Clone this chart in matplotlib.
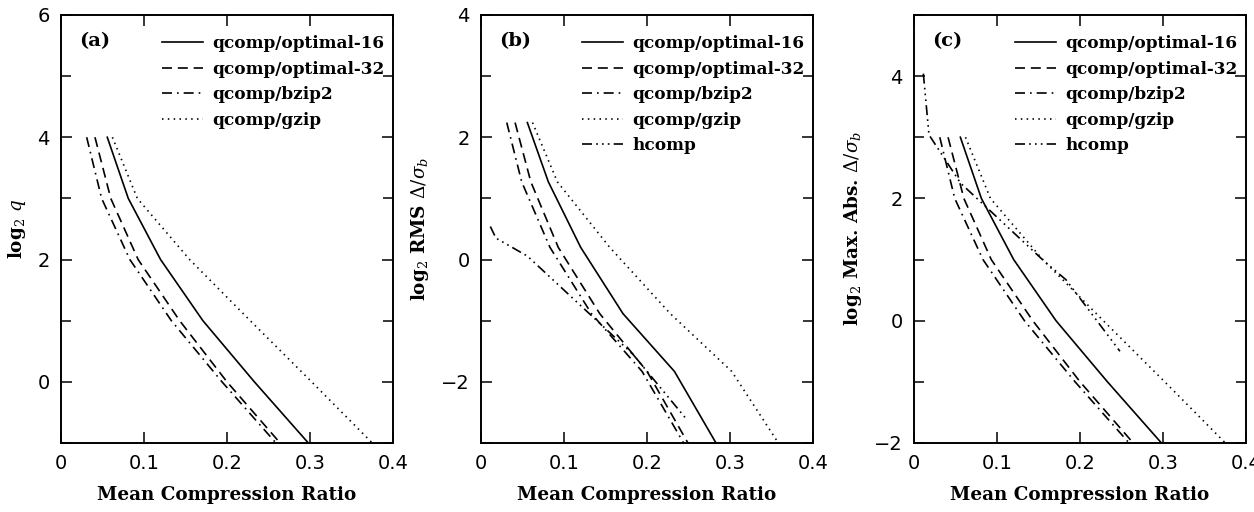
import matplotlib
matplotlib.use('Agg')
import matplotlib.pyplot as plt
from matplotlib.ticker import MultipleLocator

plt.rcParams['font.family'] = ['DejaVu Serif']
plt.rcParams['mathtext.fontset'] = 'dejavuserif'
plt.rcParams['mathtext.default'] = 'it'

# mean compression ratio for each quantisation step (same q for all qcomp coders)
ratio_opt16 = [0.0558, 0.0811, 0.120, 0.171, 0.233, 0.298]
ratio_opt32 = [0.041, 0.060, 0.093, 0.143, 0.200, 0.264]
ratio_bzip2 = [0.031, 0.049, 0.083, 0.133, 0.194, 0.259]
ratio_gzip = [0.062, 0.092, 0.155, 0.228, 0.302, 0.375]

log2_q = [4, 3, 2, 1, 0, -1]
log2_rms = [2.24, 1.27, 0.20, -0.885, -1.83, -3.35]
log2_maxabs = [3, 2, 1, 0, -1, -2]

hcomp_ratio = [0.0112, 0.018, 0.056, 0.157, 0.183, 0.248]
hcomp_rms = [0.54, 0.35, 0.055, -1.22, -1.55, -2.62]
hcomp_maxabs = [4.04, 3.04, 2.25, 0.97, 0.67, -0.5]

qcomp_names = ['qcomp/optimal-16', 'qcomp/optimal-32', 'qcomp/bzip2', 'qcomp/gzip']
qcomp_ratios = [ratio_opt16, ratio_opt32, ratio_bzip2, ratio_gzip]
styles = ['-', (0, (6, 3.5)), (0, (6, 3, 1, 3)), (0, (0.9, 2.6))]
hcomp_style = (0, (6, 2.5, 1, 2.5, 1, 2.5, 1, 2.5))

xticks = [0, 0.1, 0.2, 0.3, 0.4]
xticklabels = ['0', '0.1', '0.2', '0.3', '0.4']

panels = [
    ('(a)', log2_q, None, (-1, 6), r'log$_2$ $q$', 0.0486),
    ('(b)', log2_rms, hcomp_rms, (-3, 4), r'log$_2$ RMS $\Delta/\sigma_b$', 0.3836),
    ('(c)', log2_maxabs, hcomp_maxabs, (-2, 5), r'log$_2$ Max. Abs. $\Delta/\sigma_b$', 0.7289),
]

fig = plt.figure(figsize=(12.54, 5.12), dpi=100)

for tag, yvals, hvals, ylim, ylabel, left in panels:
    ax = fig.add_axes([left, 0.1348, 0.2648, 0.836])
    for name, xr, ls in zip(qcomp_names, qcomp_ratios, styles):
        ax.plot(xr, yvals, color='black', lw=1.2, linestyle=ls, label=name)
    if hvals is not None:
        ax.plot(hcomp_ratio, hvals, color='black', lw=1.2, linestyle=hcomp_style, label='hcomp')

    ax.set_xlim(0, 0.4)
    ax.set_ylim(*ylim)
    ax.set_xticks(xticks)
    ax.set_xticklabels(xticklabels, family='DejaVu Sans')
    ax.yaxis.set_major_locator(MultipleLocator(2))
    ax.yaxis.set_minor_locator(MultipleLocator(1))
    for lab in ax.get_yticklabels():
        lab.set_family('DejaVu Sans')
    ax.tick_params(which='both', direction='in', top=True, right=True,
                   labelsize=14, width=1.1)
    ax.tick_params(which='major', length=8, pad=8)
    ax.tick_params(which='minor', length=7)
    for sp in ax.spines.values():
        sp.set_linewidth(1.4)

    ax.set_xlabel('Mean Compression Ratio', fontsize=13.2, fontweight='bold', labelpad=9)
    ax.set_ylabel(ylabel, fontsize=13.2, fontweight='bold', labelpad=7)
    ax.text(0.054, 0.94, tag, transform=ax.transAxes, fontsize=14, fontweight='bold',
            va='center')
    ax.legend(loc='upper right', frameon=False, handlelength=2.4,
              handletextpad=0.55, labelspacing=0.5, borderaxespad=0.1,
              bbox_to_anchor=(1.0, 0.972),
              prop={'size': 12.2, 'weight': 'bold'})

fig.savefig('out.png', dpi=100)
